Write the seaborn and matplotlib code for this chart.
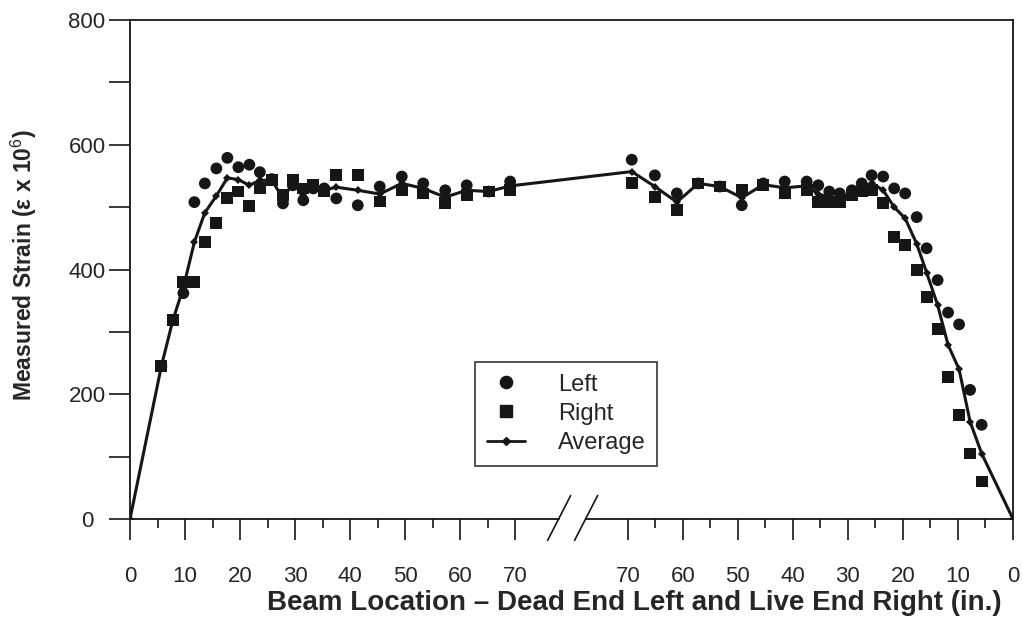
import numpy as np
import pandas as pd
import matplotlib
matplotlib.use("Agg")
import matplotlib.pyplot as plt
import matplotlib.transforms as mtransforms
from matplotlib.lines import Line2D
from matplotlib.ticker import FixedLocator, MultipleLocator
import seaborn as sns

# ---------------- data ----------------
# Dead end (left half of chart): distance from beam end, inches
dead_x = [5.7, 7.8, 9.7, 11.7, 13.6, 15.7, 17.7, 19.7, 21.7, 23.6, 25.8, 27.8, 29.6,
          31.5, 33.3, 35.3, 37.5, 41.4, 45.4, 49.4, 53.3, 57.3, 61.2, 65.2, 69.1]
dead_left = [245, 319, 362, 508, 538, 562, 579, 564, 568, 556, 545, 506, 535,
             511, 530, 530, 514, 503, 533, 549, 538, 527, 535, 525, 541]
dead_right = [245, 319, 380, 380, 444, 475, 515, 525, 502, 531, 543, 520, 543,
              530, 535, 525, 551, 551, 509, 527, 522, 506, 519, 525, 527]
dead_avg_x = [0, 5.7, 7.8, 9.7, 11.7, 13.6, 15.7, 17.7, 19.7, 21.7, 23.6, 25.8, 27.8,
              29.6, 31.5, 33.3, 35.3, 37.5, 41.4, 45.4, 49.4, 53.3, 57.3, 61.2, 65.2, 69.1]
dead_avg = [0, 245, 319, 371, 444, 491, 518, 547, 544, 535, 543, 543, 514,
            538, 520, 534, 527, 532, 527, 521, 538, 530, 516, 527, 525, 534]

# Live end (right half of chart): distance from beam end, inches
live_x = [5.7, 7.8, 9.8, 11.8, 13.7, 15.7, 17.5, 19.6, 21.6, 23.6, 25.7, 27.5, 29.3,
          31.5, 33.4, 35.4, 37.5, 41.5, 45.4, 49.3, 53.3, 57.2, 61.1, 65.1, 69.3]
live_left = [151, 207, 312, 331, 383, 434, 484, 522, 530, 549, 551, 538, 527,
             522, 525, 535, 541, 541, 538, 503, 533, 538, 522, 551, 576]
live_right = [60, 105, 167, 228, 304, 356, 399, 439, 452, 506, 527, 525, 520,
              508, 508, 508, 527, 522, 535, 527, 533, 538, 495, 516, 539]
live_avg_x = [0, 5.7, 7.8, 9.8, 11.8, 13.7, 15.7, 17.5, 19.6, 21.6, 23.6, 25.7, 27.5,
              29.3, 31.5, 33.4, 35.4, 37.5, 41.5, 45.4, 49.3, 53.3, 57.2, 61.1, 65.1, 69.3]
live_avg = [0, 105, 156, 240, 279, 343, 395, 441, 482, 500, 527, 539, 531,
            523, 515, 516, 521, 534, 531, 536, 515, 533, 538, 508, 533, 557]

tick_vals = [0, 10, 20, 30, 40, 50, 60, 70]
minor_vals = [5, 15, 25, 35, 45, 55, 65]

# ---------------- layout of the broken axis ----------------
SPAN = 160.5          # total axis length in chart units (dead 0 ... live 0)
BREAK = (78.0, 82.9)  # where the axis line is interrupted


def live_pos(v):
    return SPAN - np.asarray(v, dtype=float)


pts = pd.concat([
    pd.DataFrame({"pos": dead_x, "Left": dead_left, "Right": dead_right}),
    pd.DataFrame({"pos": live_pos(live_x), "Left": live_left, "Right": live_right}),
])
pts_long = pts.melt(id_vars="pos", var_name="side", value_name="strain")

avg = pd.concat([
    pd.DataFrame({"pos": dead_avg_x, "strain": dead_avg}),
    pd.DataFrame({"pos": live_pos(live_avg_x), "strain": live_avg}),
]).sort_values("pos")

# ---------------- style ----------------
sns.set_theme(style="white")
plt.rcParams["font.family"] = ["Liberation Sans", "DejaVu Sans"]
plt.rcParams["mathtext.fontset"] = "custom"
plt.rcParams["mathtext.rm"] = "Liberation Sans"
plt.rcParams["mathtext.bf"] = "Liberation Sans:bold"
INK = "#161616"
TXT = "#262626"

fig = plt.figure(figsize=(10.22, 6.27), dpi=100)
ax = fig.add_axes([130 / 1022, 1 - 519 / 627, 883 / 1022, 499 / 627])

sns.scatterplot(data=pts_long, x="pos", y="strain", style="side",
                markers={"Left": "o", "Right": "s"}, color=INK, s=72,
                linewidth=0, legend=False, ax=ax, zorder=3)
sns.lineplot(data=avg, x="pos", y="strain", estimator=None, sort=True,
             color=INK, lw=2.2, marker="D", markersize=4.5,
             markeredgewidth=0, ax=ax, zorder=4)

ax.set_xlim(0, SPAN)
ax.set_ylim(0, 800)

# x ticks: dead end 0..70 left to right, live end 70..0
major_pos = list(tick_vals) + list(live_pos(tick_vals[::-1]))
major_lab = [str(v) for v in tick_vals] + [str(v) for v in tick_vals[::-1]]
minor_pos = list(minor_vals) + list(live_pos(minor_vals))
ax.xaxis.set_major_locator(FixedLocator(major_pos))
ax.set_xticklabels(major_lab)
ax.xaxis.set_minor_locator(FixedLocator(minor_pos))

ax.yaxis.set_major_locator(MultipleLocator(200))
ax.yaxis.set_minor_locator(MultipleLocator(100))

ax.tick_params(axis="x", which="major", direction="out", length=15, width=1.2,
               color=INK, labelsize=16, labelcolor=TXT, pad=19, bottom=True)
ax.tick_params(axis="x", which="minor", direction="out", length=6.5, width=1.2,
               color=INK, bottom=True)
ax.tick_params(axis="y", which="both", direction="out", length=15, width=1.2,
               color=INK, left=True)
ax.tick_params(axis="y", which="major", labelsize=16, labelcolor=TXT, pad=16)
for lab in ax.get_yticklabels():
    lab.set_horizontalalignment("center")

for side in ["left", "right", "top"]:
    ax.spines[side].set_visible(True)
    ax.spines[side].set_color(INK)
    ax.spines[side].set_linewidth(1.3)
ax.spines["bottom"].set_visible(False)

# broken bottom axis line with // marks
tr = mtransforms.blended_transform_factory(ax.transData, ax.transAxes)
ax.plot([0, BREAK[0]], [0, 0], transform=tr, color=INK, lw=1.3, clip_on=False, zorder=5)
ax.plot([BREAK[1], SPAN], [0, 0], transform=tr, color=INK, lw=1.3, clip_on=False, zorder=5)
for b in BREAK:
    ax.plot([b - 2.1, b + 2.1], [-0.043, 0.047], transform=tr, color=INK, lw=1.2,
            clip_on=False, zorder=5)

ax.set_xlabel("Beam Location \u2013 Dead End Left and Live End Right (in.)",
              fontsize=20, fontweight="bold", color=TXT)
ax.xaxis.set_label_coords(0.571, -0.142)
ax.set_ylabel("Measured Strain (\u03b5 x 10$^{6}$)", fontsize=16.5,
              fontweight="bold", color=TXT)
ax.yaxis.set_label_coords(-0.103, 0.509)

handles = [
    Line2D([], [], ls="none", marker="o", color=INK, markersize=8.8, label="Left"),
    Line2D([], [], ls="none", marker="s", color=INK, markersize=8.8, label="Right"),
    Line2D([], [], ls="-", lw=2.0, marker="D", markersize=4.5, color=INK, label="Average"),
]
leg = ax.legend(handles=handles, loc="upper left", bbox_to_anchor=(0.391, 0.315),
                frameon=True, fancybox=False, edgecolor=INK, fontsize=17,
                handlelength=1.6, handletextpad=1.4, borderpad=0.5,
                labelspacing=0.3, borderaxespad=0)
leg.get_frame().set_linewidth(1.3)
for t in leg.get_texts():
    t.set_color(TXT)

fig.savefig("out.png", dpi=100)
